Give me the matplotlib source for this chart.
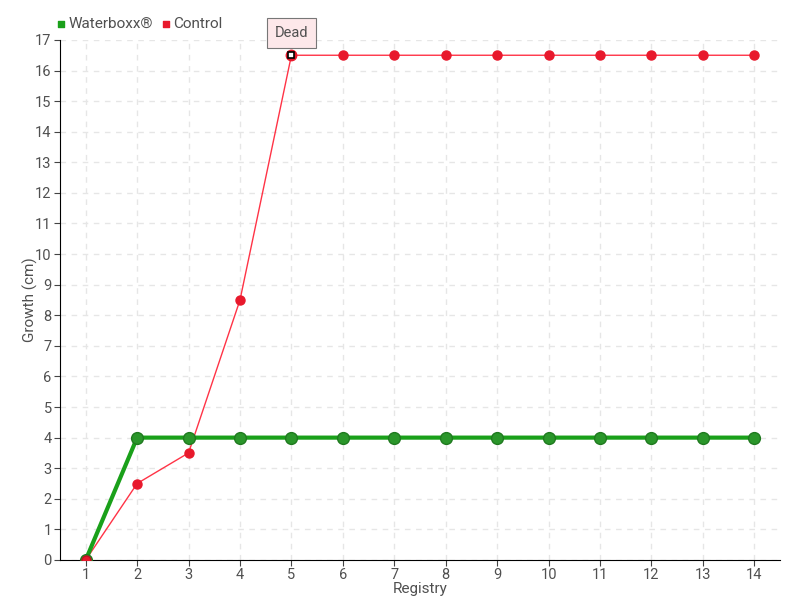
import numpy as np
import matplotlib.pyplot as plt

registry = list(range(1, 15))
waterboxx = [0, 4, 4, 4, 4, 4, 4, 4, 4, 4, 4, 4, 4, 4]
control = [0, 2.5, 3.5, 8.5, 16.5, 16.5, 16.5, 16.5, 16.5, 16.5, 16.5, 16.5, 16.5, 16.5]
dead_idx = 4

plt.rcParams['font.family'] = ['Roboto', 'DejaVu Sans']
fig = plt.figure(figsize=(8, 6), dpi=100)
ax = fig.add_axes([0.075, 0.0667, 0.9, 0.8667])

txt = '#505050'
ax.plot(registry, control, color='#ff3346', lw=1, zorder=3)
ax.plot(registry, control, 'o', color='#e8192c', ms=6.5, mec='#e8192c', zorder=4)
ax.plot(registry, waterboxx, color='#1aa01a', lw=3, zorder=5)
ax.plot(registry, waterboxx, 'o', color='#2a962a', ms=8.5, mec='#1f7a1f', mew=1, zorder=6)
ax.plot(registry[0], control[0], 'o', color='#e8192c', ms=6.5, mec='#c01020', mew=1, zorder=7)
ax.plot(registry[dead_idx], control[dead_idx], 'o', mfc='none', mec='#e8192c', ms=7, mew=1.5, zorder=7)
ax.plot(registry[dead_idx], control[dead_idx], 's', color='white', mec='black', ms=4, mew=1.2, zorder=8)

ax.annotate('Dead', (registry[dead_idx], control[dead_idx]), xytext=(0, 16), textcoords='offset points',
            ha='center', va='center', fontsize=10.5, color=txt,
            bbox=dict(boxstyle='square,pad=0.55', fc='#fde8ea', ec='#777777', lw=0.8),
            arrowprops=dict(arrowstyle='-', color='#777777', lw=0.8, shrinkB=4))

ax.set_xlim(0.5, 14.5)
ax.set_ylim(0, 17)
ax.set_xticks(registry)
ax.set_yticks(range(0, 18))
ax.tick_params(labelcolor=txt, labelsize=10.5, length=4, color='#444444', pad=2)
ax.grid(True, ls=(0, (4, 4)), color='#e6e6e6', lw=1)
ax.set_axisbelow(True)
for s in ['top', 'right']:
    ax.spines[s].set_visible(False)
ax.set_xlabel('Registry', color=txt, fontsize=11, labelpad=0)
ax.set_ylabel('Growth (cm)', color=txt, fontsize=11)
ax.yaxis.set_label_coords(-0.031, 0.5)

h1 = ax.scatter([], [], marker='s', color='#1aa01a', s=16)
h2 = ax.scatter([], [], marker='s', color='#e8192c', s=16)
fig.legend([h1, h2], ['Waterboxx®', 'Control'], loc='upper left', bbox_to_anchor=(0.053, 0.995),
           ncol=2, frameon=False, fontsize=11, labelcolor=txt, handletextpad=0.1, columnspacing=0.5,
           handlelength=0.7)

fig.savefig('out.png', dpi=100)
